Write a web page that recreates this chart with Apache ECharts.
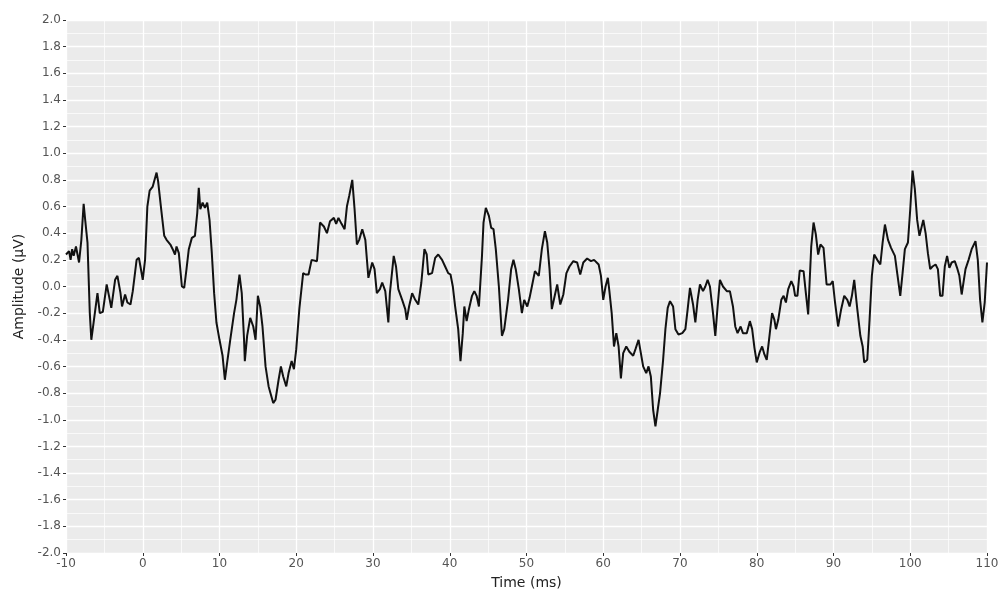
<!DOCTYPE html>
<html>
<head>
<meta charset="utf-8">
<script src="https://cdn.jsdelivr.net/npm/echarts@6/dist/echarts.min.js"></script>
<style>
html,body{margin:0;padding:0;background:#fff;}
#chart{width:998px;height:597px;}
</style>
</head>
<body>
<div id="chart"></div>
<script>
// Time (ms)
const timeMs = [
-10.0,-9.6,-9.4,-9.2,-9.0,-8.7,-8.3,-8.0,-7.7,-7.5,-7.2,-6.9,-6.7,-6.4,-5.9,-5.6,-5.2,-4.7,-4.4,-4.1,
-3.6,-3.3,-2.9,-2.7,-2.3,-2.0,-1.6,-1.3,-0.8,-0.5,-0.3,0.0,0.3,0.6,0.9,1.3,1.8,2.0,2.4,2.8,
3.1,3.3,3.6,3.9,4.2,4.4,4.7,5.1,5.4,5.7,6.0,6.4,6.8,7.1,7.3,7.5,7.8,8.1,8.4,8.7,
9.0,9.3,9.6,10.0,10.4,10.7,11.0,11.4,11.9,12.2,12.6,12.9,13.2,13.3,13.6,14.0,14.4,14.7,15.0,15.3,
15.6,16.0,16.4,17.0,17.3,17.7,18.0,18.3,18.7,19.0,19.4,19.7,20.0,20.4,20.9,21.2,21.6,22.0,22.7,23.1,
23.6,24.0,24.4,24.9,25.2,25.5,25.9,26.3,26.6,26.9,27.3,27.6,27.9,28.2,28.6,29.0,29.4,29.9,30.2,30.5,
30.9,31.2,31.6,32.0,32.2,32.7,33.0,33.3,33.8,34.2,34.4,34.7,35.1,35.5,35.9,36.3,36.7,37.0,37.2,37.7,
38.1,38.5,39.0,39.4,39.8,40.1,40.4,40.7,41.1,41.4,41.7,41.9,42.2,42.5,42.9,43.2,43.5,43.8,44.2,44.4,
44.7,45.1,45.4,45.7,46.0,46.4,46.8,47.1,47.6,48.0,48.3,48.6,49.0,49.4,49.7,50.1,50.4,50.7,51.1,51.6,
52.0,52.4,52.7,53.0,53.3,53.6,54.0,54.4,54.8,55.2,55.6,56.1,56.6,57.0,57.4,57.9,58.4,58.8,59.4,59.7,
60.0,60.3,60.6,60.8,61.1,61.4,61.7,62.0,62.3,62.6,63.0,63.4,63.9,64.2,64.6,64.9,65.2,65.6,65.9,66.2,
66.5,66.8,67.1,67.4,67.8,68.1,68.4,68.7,69.1,69.4,69.8,70.3,70.7,71.0,71.3,71.7,72.0,72.3,72.6,73.0,
73.3,73.6,73.9,74.3,74.6,74.9,75.2,75.6,76.1,76.5,76.9,77.2,77.5,77.9,78.2,78.7,79.1,79.4,79.7,80.0,
80.4,80.7,81.0,81.3,81.7,82.0,82.3,82.5,82.8,83.2,83.5,83.8,84.1,84.5,84.8,85.0,85.3,85.6,86.1,86.4,
86.7,87.1,87.4,87.7,88.0,88.3,88.7,89.1,89.6,89.9,90.2,90.6,91.0,91.4,91.8,92.1,92.4,92.7,93.1,93.5,
93.8,94.0,94.4,94.7,95.0,95.3,95.7,96.1,96.4,96.7,97.1,97.5,98.0,98.3,98.7,99.0,99.3,99.7,100.0,100.3,
100.6,100.9,101.2,101.4,101.7,102.0,102.3,102.6,102.9,103.3,103.6,103.9,104.2,104.5,104.8,105.1,105.4,105.8,106.1,106.4,
106.7,107.2,107.6,108.0,108.5,108.8,109.1,109.4,109.7,110.0
];
// Amplitude (µV)
const amplitude = [
0.24,0.265,0.20,0.28,0.23,0.30,0.18,0.35,0.62,0.50,0.33,-0.20,-0.40,-0.27,-0.05,-0.20,-0.19,0.015,-0.07,-0.16,
0.05,0.08,-0.05,-0.15,-0.06,-0.12,-0.135,-0.035,0.20,0.215,0.15,0.05,0.20,0.60,0.72,0.75,0.855,0.79,0.58,0.38,
0.35,0.365,0.315,0.28,0.24,0.30,0.25,0.00,-0.01,0.13,0.28,0.365,0.38,0.55,0.74,0.58,0.63,0.59,0.63,0.50,
0.25,-0.05,-0.27,-0.40,-0.52,-0.70,-0.57,-0.40,-0.20,-0.10,0.09,-0.05,-0.40,-0.56,-0.37,-0.235,-0.30,-0.40,-0.07,-0.15,
-0.30,-0.60,-0.75,-0.875,-0.85,-0.70,-0.60,-0.675,-0.75,-0.65,-0.56,-0.62,-0.47,-0.17,0.10,0.09,0.09,0.20,0.19,0.48,
0.45,0.40,0.49,0.515,0.47,0.515,0.47,0.43,0.60,0.68,0.80,0.58,0.315,0.35,0.43,0.35,0.065,0.18,0.13,-0.05,
-0.02,0.03,-0.035,-0.27,-0.05,0.23,0.15,-0.02,-0.10,-0.17,-0.25,-0.15,-0.05,-0.10,-0.135,0.03,0.28,0.24,0.09,0.10,
0.215,0.24,0.20,0.15,0.10,0.09,0.00,-0.15,-0.32,-0.56,-0.35,-0.15,-0.26,-0.17,-0.07,-0.035,-0.07,-0.15,0.23,0.48,
0.59,0.53,0.44,0.43,0.28,0.00,-0.37,-0.32,-0.10,0.13,0.20,0.13,-0.02,-0.20,-0.10,-0.15,-0.085,0.00,0.115,0.08,
0.28,0.415,0.33,0.13,-0.17,-0.09,0.015,-0.135,-0.06,0.10,0.15,0.19,0.18,0.09,0.18,0.21,0.19,0.20,0.165,0.08,
-0.10,0.00,0.065,-0.035,-0.20,-0.45,-0.35,-0.45,-0.69,-0.50,-0.45,-0.49,-0.52,-0.47,-0.40,-0.50,-0.60,-0.65,-0.60,-0.675,
-0.925,-1.05,-0.925,-0.80,-0.55,-0.32,-0.16,-0.11,-0.15,-0.32,-0.36,-0.35,-0.32,-0.17,-0.01,-0.135,-0.27,-0.10,0.015,-0.035,
0.00,0.05,0.00,-0.20,-0.37,-0.15,0.05,0.00,-0.035,-0.035,-0.15,-0.30,-0.35,-0.30,-0.35,-0.35,-0.26,-0.32,-0.46,-0.57,
-0.49,-0.45,-0.51,-0.55,-0.35,-0.20,-0.25,-0.32,-0.25,-0.10,-0.07,-0.12,-0.02,0.04,0.00,-0.07,-0.07,0.12,0.115,-0.05,
-0.21,0.30,0.48,0.39,0.24,0.315,0.29,0.015,0.015,0.04,-0.12,-0.30,-0.17,-0.07,-0.10,-0.15,-0.07,0.05,-0.17,-0.37,
-0.45,-0.57,-0.55,-0.25,0.08,0.24,0.20,0.165,0.33,0.465,0.35,0.29,0.23,0.10,-0.07,0.10,0.28,0.33,0.58,0.87,
0.73,0.50,0.38,0.365,0.50,0.40,0.25,0.13,0.15,0.165,0.13,-0.07,-0.07,0.15,0.23,0.14,0.18,0.19,0.14,0.08,
-0.06,0.13,0.20,0.28,0.34,0.20,-0.10,-0.27,-0.12,0.18
];
const xTicks = {min: -10, max: 110, step: 10};
const yTicks = {min: -2, max: 2, step: 0.2};
const xTitle = 'Time (ms)';
const yTitle = 'Amplitude (µV)';

const seriesData = timeMs.map((t, i) => [t, amplitude[i]]);
const font = '"DejaVu Sans", Verdana, sans-serif';
const chart = echarts.init(document.getElementById('chart'), null, {renderer: 'canvas'});
chart.setOption({
  animation: false,
  backgroundColor: '#ffffff',
  grid: {left: 66, right: 11, top: 20, bottom: 44, show: true, backgroundColor: '#EBEBEB', borderWidth: 0,
    containLabel: false, outerBoundsMode: 'none'},
  xAxis: {
    type: 'value', min: xTicks.min, max: xTicks.max, interval: xTicks.step,
    name: xTitle, nameLocation: 'middle', nameGap: 23,
    nameTextStyle: {color: '#222', fontSize: 14, fontFamily: font},
    axisLine: {show: false, onZero: false},
    axisTick: {show: true, length: 3, lineStyle: {color: '#333', width: 1}},
    axisLabel: {color: '#555', fontSize: 12, fontFamily: font, margin: 5, hideOverlap: false},
    splitLine: {show: true, lineStyle: {color: '#ffffff', width: 1.3}},
    minorTick: {show: false, splitNumber: 2},
    minorSplitLine: {show: true, lineStyle: {color: '#ffffff', width: 0.7}}
  },
  yAxis: {
    type: 'value', min: yTicks.min, max: yTicks.max, interval: yTicks.step,
    name: yTitle, nameLocation: 'middle', nameGap: 39,
    nameTextStyle: {color: '#222', fontSize: 14, fontFamily: font},
    axisLine: {show: false, onZero: false},
    axisTick: {show: true, length: 3, lineStyle: {color: '#333', width: 1}},
    axisLabel: {color: '#555', fontSize: 12, fontFamily: font, margin: 5,
      formatter: v => v.toFixed(1)},
    splitLine: {show: true, lineStyle: {color: '#ffffff', width: 1.3}},
    minorTick: {show: false, splitNumber: 2},
    minorSplitLine: {show: true, lineStyle: {color: '#ffffff', width: 0.7}}
  },
  series: [{
    type: 'line', data: seriesData, showSymbol: false, symbol: 'none',
    lineStyle: {color: '#111', width: 2}, clip: true
  }]
});
</script>
</body>
</html>
